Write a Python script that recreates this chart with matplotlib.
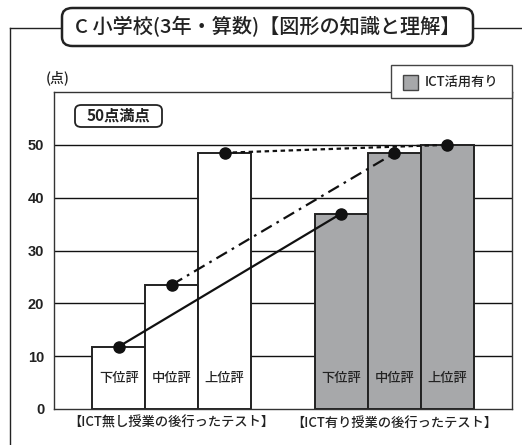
import matplotlib
matplotlib.use('Agg')
import matplotlib.pyplot as plt
import numpy as np
from matplotlib.patches import FancyBboxPatch, Rectangle
from matplotlib.lines import Line2D

plt.rcParams['font.family'] = ['Noto Sans CJK JP', 'DejaVu Sans']

title = 'C 小学校(3年・算数)【図形の知識と理解】'
levels = ['下位評', '中位評', '上位評']
groups = ['【ICT無し授業の後行ったテスト】', '【ICT有り授業の後行ったテスト】']
no_ict = [11.8, 23.5, 48.5]
with_ict = [37.0, 48.4, 50.0]
yticks = [0, 10, 20, 30, 40, 50]

W, H = 522, 445
fig = plt.figure(figsize=(W / 100, H / 100), dpi=100)


def fx(px):
    return px / W


def fy(py):
    return 1 - py / H


# axes placed in pixel terms
ax_l, ax_r, ax_t, ax_b = 54, 512, 92, 409
ax = fig.add_axes([fx(ax_l), fy(ax_b), fx(ax_r - ax_l), (ax_b - ax_t) / H])
ax.set_xlim(0, (ax_r - ax_l) / 53)
ax.set_ylim(0, 60)

x1 = np.arange(3) + 1.22
x2 = np.arange(3) + 5.42

for y in yticks[1:]:
    ax.axhline(y, color='#111111', lw=1.0, zorder=1)

ax.bar(x1, no_ict, width=1.0, color='white', edgecolor='#222222', lw=1.4, zorder=2)
ax.bar(x2, with_ict, width=1.0, color='#a7a8aa', edgecolor='#222222', lw=1.4, zorder=2)

for xs in (x1, x2):
    for x, lab in zip(xs, levels):
        ax.text(x, 5.9, lab, ha='center', va='center', fontsize=9.5,
                fontweight='medium', color='#222222', zorder=3)

styles = ['-', (0, (5.5, 2.5, 1.2, 2.5)), (0, (2, 1.6))]
for i in range(3):
    ax.plot([x1[i], x2[i]], [no_ict[i], with_ict[i]], color='#111111', lw=1.6,
            linestyle=styles[i], zorder=4, solid_capstyle='butt')
    ax.plot([x1[i], x2[i]], [no_ict[i], with_ict[i]], 'o', color='#111111',
            markersize=8, zorder=5)

ax.set_yticks(yticks)
ax.set_yticklabels([str(v) for v in yticks], fontsize=10.5, fontweight='bold',
                   family=['Liberation Sans', 'DejaVu Sans'], color='#222222')
ax.tick_params(axis='y', length=0, pad=7)
ax.set_xticks([])
for s in ax.spines.values():
    s.set_color('#333333')
    s.set_linewidth(1.0)

# group labels
for xs, g in zip((x1, x2), groups):
    ax.text(xs[1], -2.6, g, ha='center', va='center', fontsize=9.5,
            fontweight='medium', color='#222222', clip_on=False)

# (点)
fig.text(fx(58), fy(78), '(点)', ha='center', va='center', fontsize=10,
         fontweight='medium', color='#222222')

# 50点満点 box
fig.patches.append(FancyBboxPatch((fx(75), fy(127)), fx(162 - 75), (127 - 105) / H,
                                  boxstyle='round,pad=0,rounding_size=0.012',
                                  transform=fig.transFigure, fc='white', ec='#222222',
                                  lw=1.3, zorder=5))
fig.text(fx(118.5), fy(116), '50点満点', ha='center', va='center', fontsize=11,
         fontweight='bold', color='#222222', zorder=6)

# legend box
fig.patches.append(Rectangle((fx(391), fy(98)), fx(512 - 391), (98 - 65) / H,
                             transform=fig.transFigure, fc='white', ec='#444444',
                             lw=1.0, zorder=5))
fig.patches.append(Rectangle((fx(403), fy(90)), fx(15), 15 / H,
                             transform=fig.transFigure, fc='#a7a8aa', ec='#444444',
                             lw=1.0, zorder=6))
fig.text(fx(425), fy(82), 'ICT活用有り', ha='left', va='center', fontsize=9.5,
         fontweight='medium', color='#222222', zorder=7)

# outer frame lines
fig.lines.append(Line2D([fx(10), fx(62)], [fy(28), fy(28)], transform=fig.transFigure,
                        color='#222222', lw=1.0))
fig.lines.append(Line2D([fx(473), fx(522)], [fy(28), fy(28)], transform=fig.transFigure,
                        color='#222222', lw=1.0))
fig.lines.append(Line2D([fx(10), fx(10)], [fy(28), fy(445)], transform=fig.transFigure,
                        color='#222222', lw=1.0))

# title box
fig.patches.append(FancyBboxPatch((fx(62), fy(46)), fx(473 - 62), (46 - 8) / H,
                                  boxstyle='round,pad=0,rounding_size=0.02',
                                  transform=fig.transFigure, fc='white', ec='#222222',
                                  lw=1.8, zorder=5))
fig.text(fx(267.5), fy(27), title, ha='center', va='center', fontsize=14.5,
         fontweight='medium', color='#222222', zorder=6)

fig.savefig('out.png', dpi=100)
